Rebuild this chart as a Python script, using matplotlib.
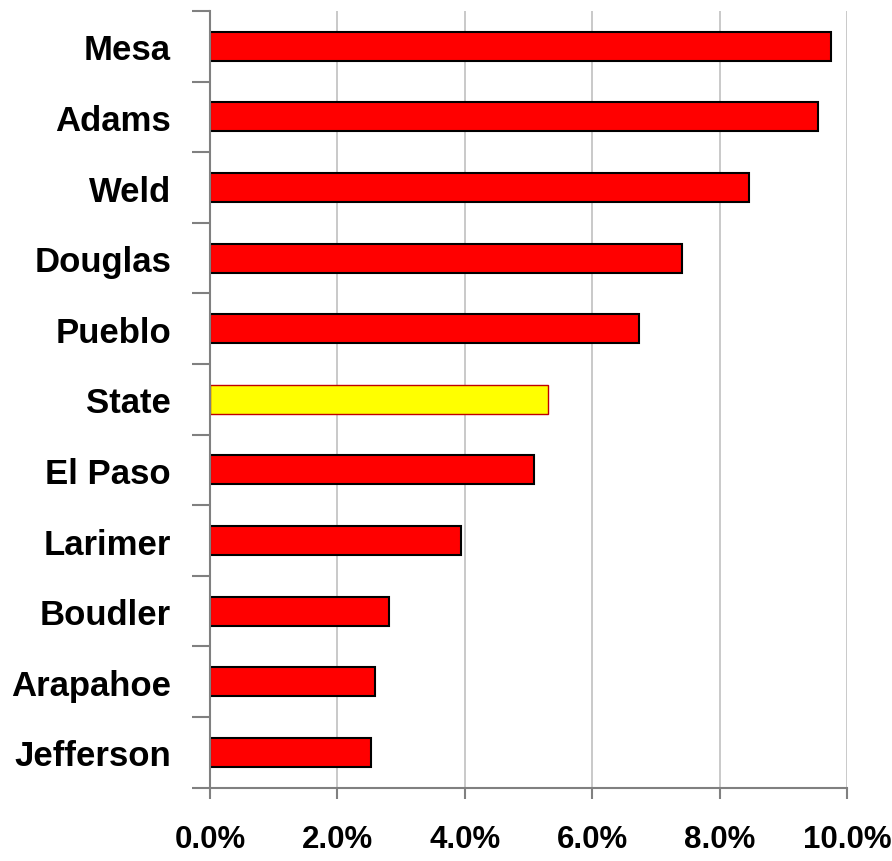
import matplotlib
matplotlib.use("Agg")
import matplotlib.pyplot as plt
from matplotlib.ticker import FixedLocator, FuncFormatter
from matplotlib import font_manager

categories = ["Mesa", "Adams", "Weld", "Douglas", "Pueblo", "State",
              "El Paso", "Larimer", "Boudler", "Arapahoe", "Jefferson"]
values = [9.75, 9.55, 8.46, 7.41, 6.73, 5.31, 5.09, 3.94, 2.81, 2.59, 2.52]
xticks = [0, 2, 4, 6, 8, 10]

names = {f.name for f in font_manager.fontManager.ttflist}
fam = ["Liberation Sans Narrow", "Liberation Sans", "DejaVu Sans"]
fam = [f for f in fam if f in names] or ["DejaVu Sans"]
plt.rcParams["font.family"] = fam

fig = plt.figure(figsize=(8.92, 8.62), dpi=100)
ax = fig.add_axes([210/892, 1-788.7/862, (847-210)/892, (788.7-12)/862])

ypos = list(range(len(categories)))
colors = ["#ffff00" if c == "State" else "#ff0000" for c in categories]
edges = ["#c00000" if c == "State" else "#000000" for c in categories]
lws = [1.0 if c == "State" else 1.5 for c in categories]
ax.barh(ypos, values, height=0.41, color=colors, edgecolor=edges, linewidth=lws, zorder=3)

ax.set_xlim(0, 10)
ax.set_ylim(len(categories)-0.5, -0.5)
ax.xaxis.set_major_locator(FixedLocator(xticks))
ax.xaxis.set_major_formatter(FuncFormatter(lambda v, p: f"{v:.1f}%"))
ax.grid(axis="x", color="#c0c0c0", linewidth=1.2, zorder=0)
ax.set_yticks(ypos)
ax.set_yticklabels(categories)
ax.yaxis.set_minor_locator(FixedLocator([i-0.5 for i in range(len(categories)+1)]))
ax.tick_params(axis="y", which="major", length=0, pad=28, labelsize=25)
ax.tick_params(axis="y", which="minor", length=13, width=1.5, color="#808080")
ax.tick_params(axis="x", which="major", length=8, width=1.5, color="#808080", pad=18, labelsize=22.5)
for lab in ax.get_xticklabels() + ax.get_yticklabels():
    lab.set_fontweight("bold")
for s in ["top", "right"]:
    ax.spines[s].set_visible(False)
for s in ["left", "bottom"]:
    ax.spines[s].set_color("#808080")
    ax.spines[s].set_linewidth(1.5)
    ax.spines[s].set_zorder(4)

fig.savefig("out.png", dpi=100)
